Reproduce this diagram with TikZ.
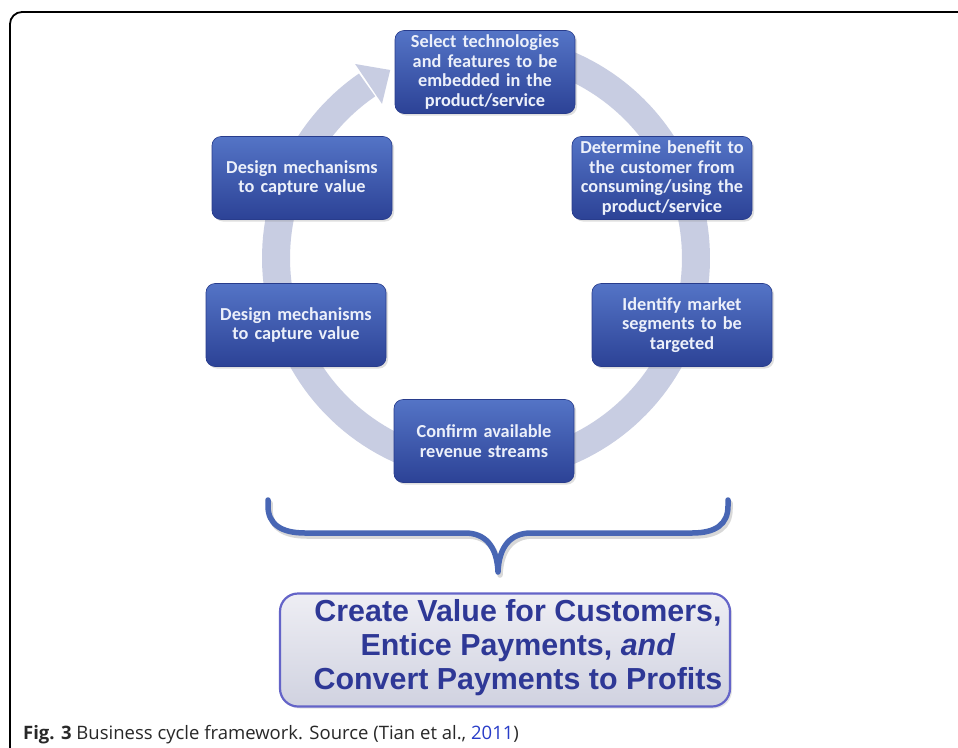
\documentclass[tikz,border=0pt]{standalone}
\usepackage{fontspec}
\setmainfont{Carlito}
\newfontfamily\boxfont{Carlito}
\newfontfamily\arialfont{Liberation Sans}
\newfontfamily\capfont{Open Sans}
\usetikzlibrary{shadows}
\definecolor{ringcol}{RGB}{200,205,226}
\definecolor{boxtop}{RGB}{84,116,198}
\definecolor{boxbot}{RGB}{44,66,150}
\definecolor{boxedge}{RGB}{40,60,140}
\definecolor{boxtxt}{RGB}{236,240,250}
\definecolor{bracecol}{RGB}{72,102,180}
\definecolor{valtxt}{RGB}{46,56,150}
\definecolor{valedge}{RGB}{100,100,200}
\definecolor{valtop}{RGB}{238,238,244}
\definecolor{valbot}{RGB}{208,210,224}
\definecolor{captblue}{RGB}{40,60,200}
\definecolor{capttxt}{RGB}{40,40,40}
\begin{document}
\begin{tikzpicture}[x=1pt,y=-1pt,
  stepbox/.style={rounded corners=9pt, minimum width=180pt, minimum height=83pt,
    text width=172pt, align=center, top color=boxtop, bottom color=boxbot,
    draw=boxedge, line width=0.6pt, text=boxtxt, inner sep=0pt,
    font=\boxfont\bfseries\fontsize{18.3}{19.4}\selectfont,
    drop shadow={opacity=0.25, shadow xshift=2pt, shadow yshift=-2pt}},
  ring/.style={draw=ringcol, line width=28pt},
  bracestyle/.style={draw=bracecol, line width=5.5pt, line join=round, line cap=round},
  braceshadow/.style={draw=black!25, line width=5.5pt, line join=round, line cap=round, opacity=0.6},
  valbox/.style={rounded corners=18pt, minimum width=450pt, minimum height=113pt,
    top color=valtop, bottom color=valbot, draw=valedge, line width=2.2pt, inner sep=0pt,
    drop shadow={opacity=0.2, shadow xshift=2pt, shadow yshift=-2pt}},
  valtext/.style={text=valtxt, align=center, inner sep=0pt,
    font=\arialfont\bfseries\fontsize{30.4}{34}\selectfont},
  frame/.style={draw=black, line width=1.8pt, rounded corners=12pt}
]
\useasboundingbox (0,0) rectangle (958,747);
\fill[white] (0,0) rectangle (958,747);

% outer frame
\draw[frame] (960,12) -- (10,12) -- (10,760) -- (40,760);

% cycle ring with arrow
\draw[ring] plot[domain=95:-235.5, samples=160] ({486+210*cos(\x)},{258-210*sin(\x)});
\fill[ringcol] ({486+186*cos(124)},{258-186*sin(124)}) -- ({486+234*cos(124)},{258-234*sin(124)})
  -- ({486+211*cos(117)},{258-211*sin(117)}) -- cycle;

% step boxes
\node[stepbox] (n1) at (485,72) {Select technologies\\and features to be\\embedded in the\\product/service};
\node[stepbox] (n2) at (662,178) {Determine benefit to\\the customer from\\consuming/using the\\product/service};
\node[stepbox] (n3) at (682,325) {Identify market\\segments to be\\targeted};
\node[stepbox] (n4) at (484,441) {Confirm available\\revenue streams};
\node[stepbox] (n5) at (296,325) {Design mechanisms\\to capture value};
\node[stepbox] (n6) at (302,178) {Design mechanisms\\to capture value};

% brace
\begin{scope}[shift={(2,3)}]
\draw[braceshadow] (268,500) -- (268,506) .. controls (268,524) and (281,533) .. (305,533) -- (465,533)
  .. controls (485,533) and (497,546) .. (498,572) .. controls (499,546) and (511,533) .. (531,533)
  -- (692,533) .. controls (716,533) and (728,524) .. (728,506) -- (728,500);
\end{scope}
\draw[bracestyle] (268,500) -- (268,506) .. controls (268,524) and (281,533) .. (305,533) -- (465,533)
  .. controls (485,533) and (497,546) .. (498,572) .. controls (499,546) and (511,533) .. (531,533)
  -- (692,533) .. controls (716,533) and (728,524) .. (728,506) -- (728,500);

% value box
\node[valbox] (val) at (505,650) {};
\node[valtext] (valt) at (518,648) {Create Value for Customers,\\Entice Payments, \textit{and}\\Convert Payments to Profits};

% caption
\node[anchor=base west, inner sep=0pt, text=capttxt, font=\capfont\fontsize{18.5}{21}\selectfont] (cap) at (23,739)
  {\textbf{Fig. 3} Business cycle framework. Source (Tian et al., {\color{captblue}2011})};
\end{tikzpicture}
\end{document}
